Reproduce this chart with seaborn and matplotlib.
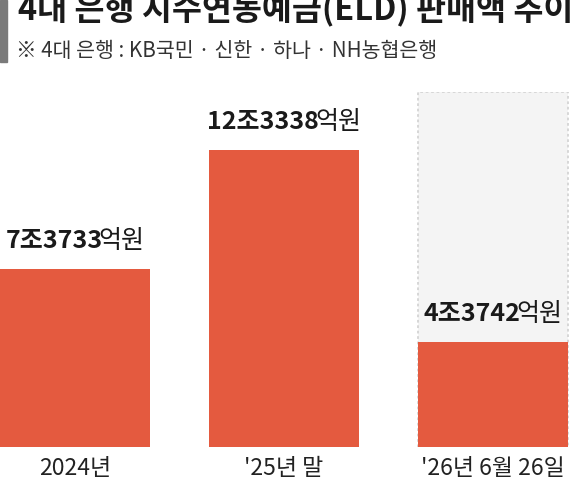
import matplotlib
matplotlib.use("Agg")
import matplotlib.pyplot as plt
import seaborn as sns
import pandas as pd
import numpy as np
from matplotlib.patches import Rectangle

# ---- data ----
categories = ["2024년", "'25년 말", "'26년 6월 26일"]
values = [7.3733, 12.3338, 4.3742]          # 조원
label_main = ["7조3733", "12조3338", "4조3742"]
label_unit = ["억원", "억원", "억원"]
bg_category = ["'26년 6월 26일"]
bg_value = [14.72]
title = "4대 은행 지수연동예금(ELD) 판매액 추이"
subtitle = "※ 4대 은행 : KB국민 · 신한 · 하나 · NH농협은행"

BAR = "#E45A3F"
FONT = ["Noto Sans CJK KR", "DejaVu Sans"]

sns.set_theme(style="white")
plt.rcParams["font.family"] = FONT

fig = plt.figure(figsize=(5.7, 4.8), dpi=100)
fig.patch.set_facecolor("white")
ax = fig.add_axes([0, 33 / 480, 1, (447 - 92) / 480])
ax.set_facecolor("white")

df = pd.DataFrame({"cat": categories, "val": values})
bg = pd.DataFrame({"cat": bg_category, "val": bg_value})

sns.barplot(data=bg, x="cat", y="val", order=categories, ax=ax, width=0.718,
            color="#F4F4F4", saturation=1, edgecolor="#D4D4D4",
            linewidth=1.3, linestyle=(0, (1.5, 1.5)))
sns.barplot(data=df, x="cat", y="val", order=categories, ax=ax, width=0.718,
            color=BAR, saturation=1, linewidth=0)

ax.set_xlim(-0.359, 2.368)
ax.set_ylim(0, bg_value[0])
ax.set_xlabel("")
ax.set_ylabel("")
ax.set_yticks([])
for s in ax.spines.values():
    s.set_visible(False)
ax.tick_params(axis="x", length=0, pad=7, labelsize=16.5, labelcolor="#222222")

# value labels: bold number + regular unit, centred over bars
fig.canvas.draw()
r = fig.canvas.get_renderer()
fs = 18
off = 21
for i, (m, u, v) in enumerate(zip(label_main, label_unit, values)):
    t1 = ax.annotate(m, xy=(i, v), xytext=(0, off), textcoords="offset pixels",
                     ha="left", va="baseline", fontsize=fs, fontweight="bold",
                     color="#1a1a1a")
    t2 = ax.annotate(u, xy=(i, v), xytext=(0, off), textcoords="offset pixels",
                     ha="left", va="baseline", fontsize=fs, fontweight="normal",
                     color="#1a1a1a")
    w1 = t1.get_window_extent(r).width - 4
    w2 = t2.get_window_extent(r).width
    tot = w1 + w2
    t1.set_position((-tot / 2, off))
    t2.set_position((-tot / 2 + w1, off))

# header
fig.patches.append(Rectangle((0, 1 - 62 / 480), 7 / 570, 62 / 480,
                             transform=fig.transFigure, color="#7a7a7a",
                             zorder=5))
fig.text(18 / 570, 1 - 20 / 480, title, fontsize=23.5, fontweight="black",
         color="#1a1a1a", va="baseline", ha="left")
fig.text(16 / 570, 1 - 51 / 480, subtitle, fontsize=14.8, color="#333333",
         va="center", ha="left")

fig.savefig("out.png", dpi=100, facecolor="white")
